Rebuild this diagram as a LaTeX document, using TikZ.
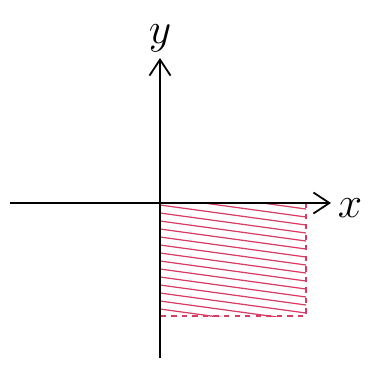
\documentclass[tikz,border=0pt]{standalone}
\usepackage{amsmath,amssymb}
\usepackage{tikz}
\usetikzlibrary{arrows.meta,positioning,calc}
\usepackage{xcolor}
\definecolor{hatchred}{RGB}{214,60,100}

\begin{document}
\begin{tikzpicture}[x=0.02cm, y=-0.02cm, every node/.style={font=\fontsize{26}{28}\selectfont}, axis/.style={line width=1pt, -{Straight Barb[length=3.2mm, width=4.2mm, line width=1pt]}}, edge/.style={draw=hatchred, line width=1pt, dashed}, hatch/.style={draw=hatchred, line width=0.7pt}]
\useasboundingbox (0,0) rectangle (374,372);
\coordinate (o) at (160,203);
\coordinate (xl) at (10,203);
\coordinate (xr) at (331,203);
\coordinate (yb) at (160,358);
\coordinate (yt) at (160,58);
\coordinate (c) at (306,316);
\node (xlab) at (350,208) {$x$};
\node (ylab) at (160,38) {$y$};
% shaded region
\begin{scope}
\clip (o) rectangle (c);
\foreach \i in {-30,-22,...,130}
  \draw[hatch] (160,203+\i) -- (306,223+\i);
\end{scope}
\draw[edge] (o -| c) -- (c) -- (o |- c);
% axes
\draw[axis] (xl) -- (xr);
\draw[axis] (yb) -- (yt);
\end{tikzpicture}
\end{document}
